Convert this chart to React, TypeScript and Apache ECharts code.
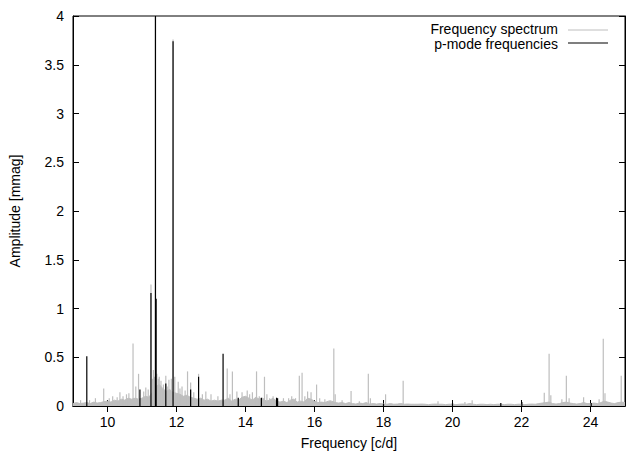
import React, { useEffect, useRef } from "react";
import * as echarts from "echarts";

// x axis ticks
const X_TICKS = [10, 12, 14, 16, 18, 20, 22, 24];

// Noise floor of the frequency spectrum, sampled every 0.1 c/d from 9.0 to 25.0
const FLOOR_START = 9.0;
const FLOOR_STEP = 0.1;
const FLOOR_AMPS = [
  0.025, 0.035, 0.025, 0.03, 0.035, 0.025, 0.04, 0.03, 0.035, 0.045,
  0.05, 0.04, 0.06, 0.05, 0.07, 0.06, 0.08, 0.07, 0.08, 0.07,
  0.08, 0.1, 0.09, 0.14, 0.2, 0.22, 0.18, 0.15, 0.17, 0.14,
  0.13, 0.12, 0.1, 0.11, 0.09, 0.08, 0.07, 0.08, 0.06, 0.07,
  0.05, 0.06, 0.05, 0.06, 0.06, 0.08, 0.05, 0.07, 0.06, 0.09,
  0.1, 0.08, 0.06, 0.09, 0.07, 0.08, 0.05, 0.06, 0.08, 0.05,
  0.04, 0.05, 0.035, 0.06, 0.07, 0.04, 0.05, 0.04, 0.08, 0.07,
  0.05, 0.035, 0.04, 0.035, 0.05, 0.05, 0.035, 0.03, 0.035, 0.025,
  0.035, 0.025, 0.02, 0.03, 0.025, 0.035, 0.02, 0.025, 0.02, 0.025,
  0.02, 0.018, 0.025, 0.018, 0.02, 0.025, 0.018, 0.02, 0.018, 0.018,
  0.018, 0.02, 0.018, 0.014, 0.018, 0.02, 0.018, 0.018, 0.014, 0.018,
  0.018, 0.014, 0.018, 0.02, 0.018, 0.025, 0.018, 0.014, 0.018, 0.018,
  0.014, 0.018, 0.014, 0.018, 0.018, 0.014, 0.018, 0.018, 0.014, 0.018,
  0.018, 0.014, 0.018, 0.02, 0.018, 0.025, 0.03, 0.035, 0.04, 0.025,
  0.02, 0.025, 0.035, 0.04, 0.03, 0.025, 0.02, 0.025, 0.035, 0.025,
  0.025, 0.03, 0.025, 0.035, 0.05, 0.04, 0.03, 0.025, 0.035, 0.04,
  0.035,
];

// Peaks of the frequency spectrum (gray)
const PEAK_FREQS = [
  9.22, 9.48, 9.65, 9.89, 10.05, 10.15, 10.28, 10.36, 10.45, 10.55,
  10.62, 10.74, 10.82, 10.9, 11.05, 11.11, 11.18, 11.26, 11.3, 11.33,
  11.36, 11.39, 11.43, 11.47, 11.5, 11.55, 11.62, 11.69, 11.73, 11.78,
  11.85, 11.9, 11.95, 12.05, 12.1, 12.16, 12.25, 12.32, 12.41, 12.5,
  12.64, 12.75, 12.85, 13.0, 13.2, 13.47, 13.55, 13.62, 13.75, 13.9,
  14.05, 14.12, 14.2, 14.32, 14.4, 14.55, 14.62, 14.7, 14.8, 15.1,
  15.25, 15.34, 15.45, 15.56, 15.64, 15.72, 15.8, 15.9, 16.06, 16.15,
  16.3, 16.45, 16.56, 16.6, 16.8, 17.06, 17.3, 17.56, 17.62, 18.06,
  18.57, 19.58, 20.36, 20.57, 22.66, 22.8, 22.85, 23.17, 23.3, 23.38,
  23.8, 24.25, 24.37, 24.42, 24.89,
];
const PEAK_AMPS = [
  0.06, 0.06, 0.08, 0.18, 0.08, 0.1, 0.09, 0.14, 0.1, 0.12,
  0.13, 0.64, 0.2, 0.33, 0.15, 0.19, 0.17, 1.245, 0.28, 0.37,
  0.3, 4.3, 0.33, 0.28, 0.3, 0.26, 0.22, 0.31, 0.2, 0.27,
  0.28, 3.76, 0.3, 0.25, 0.18, 0.2, 0.16, 0.355, 0.24, 0.14,
  0.33, 0.12, 0.15, 0.12, 0.1, 0.385, 0.12, 0.355, 0.15, 0.14,
  0.16, 0.12, 0.14, 0.355, 0.1, 0.3, 0.12, 0.08, 0.1, 0.08,
  0.08, 0.1, 0.08, 0.31, 0.34, 0.1, 0.15, 0.14, 0.22, 0.08,
  0.07, 0.06, 0.59, 0.12, 0.06, 0.155, 0.05, 0.33, 0.08, 0.12,
  0.26, 0.05, 0.04, 0.06, 0.135, 0.535, 0.11, 0.07, 0.31, 0.08,
  0.09, 0.07, 0.69, 0.13, 0.31,
];

// p-mode frequencies (black)
const PMODE_FREQS = [
  9.4, 10.94, 11.26, 11.39, 11.41, 11.69, 11.9, 12.41, 12.64, 13.35,
  13.79, 14.46, 14.9, 14.93, 18.0, 20.0, 21.4, 22.01, 24.02,
];
const PMODE_AMPS = [
  0.51, 0.17, 1.16, 4.3, 1.1, 0.23, 3.74, 0.17, 0.3, 0.535,
  0.085, 0.085, 0.085, 0.08, 0.02, 0.03, 0.03, 0.04, 0.03,
];

const FONT = "Liberation Sans, Arial, sans-serif";
const GRAY = "#bebebe";

function impulse(color: string, width: number) {
  return (params: any, api: any) => {
    const x = api.value(0);
    const y = api.value(1);
    const p0 = api.coord([x, 0]);
    const p1 = api.coord([x, y]);
    return {
      type: "line",
      shape: { x1: p0[0], y1: p0[1], x2: p1[0], y2: p1[1] },
      style: { stroke: color, lineWidth: width },
    };
  };
}

export default function App() {
  const ref = useRef<HTMLDivElement>(null);
  useEffect(() => {
    document.body.style.margin = "0";
    const chart = echarts.init(ref.current!, null, { renderer: "svg" });
    const floorData = FLOOR_AMPS.map((a, i) => [
      +(FLOOR_START + i * FLOOR_STEP).toFixed(2),
      a,
    ]);
    const peakData = PEAK_FREQS.map((f, i) => [f, PEAK_AMPS[i]]);
    const pmodeData = PMODE_FREQS.map((f, i) => [f, PMODE_AMPS[i]]);

    const tickStyle = { show: true, inside: true, length: 6, lineStyle: { color: "#000", width: 1 } };
    const labelStyle = { color: "#000", fontSize: 14, fontFamily: FONT };

    chart.setOption({
      animation: false,
      backgroundColor: "#fff",
      grid: {
        left: 72,
        right: 2,
        top: 16,
        bottom: 45,
        show: true,
        borderColor: "#000",
        borderWidth: 1,
        containLabel: false,
      },
      xAxis: [
        {
          type: "value",
          min: 9,
          max: 25,
          name: "Frequency [c/d]",
          nameLocation: "middle",
          nameGap: 30,
          nameTextStyle: { ...labelStyle },
          axisLine: { show: true, onZero: false, lineStyle: { color: "#000" } },
          axisTick: { ...tickStyle, customValues: X_TICKS },
          axisLabel: { ...labelStyle, margin: 9, customValues: X_TICKS },
          splitLine: { show: false },
        },
        {
          type: "value",
          position: "top",
          min: 9,
          max: 25,
          axisLine: { show: true, lineStyle: { color: "#000" } },
          axisTick: { ...tickStyle, customValues: X_TICKS },
          axisLabel: { show: false, customValues: X_TICKS },
          splitLine: { show: false },
        },
      ],
      yAxis: [
        {
          type: "value",
          min: 0,
          max: 4,
          interval: 0.5,
          name: "Amplitude [mmag]",
          nameLocation: "middle",
          nameGap: 51,
          nameTextStyle: { ...labelStyle },
          axisLine: { show: true, lineStyle: { color: "#000" } },
          axisTick: tickStyle,
          axisLabel: { ...labelStyle, margin: 9 },
          splitLine: { show: false },
        },
        {
          type: "value",
          position: "right",
          min: 0,
          max: 4,
          interval: 0.5,
          axisLine: { show: true, lineStyle: { color: "#000" } },
          axisTick: tickStyle,
          axisLabel: { show: false },
          splitLine: { show: false },
        },
      ],
      series: [
        {
          name: "Frequency spectrum",
          type: "line",
          data: floorData,
          symbol: "none",
          lineStyle: { color: GRAY, width: 1 },
          areaStyle: { color: GRAY, opacity: 1 },
          clip: true,
          z: 1,
        },
        {
          name: "Frequency spectrum peaks",
          type: "custom",
          data: peakData,
          renderItem: impulse(GRAY, 1.2),
          clip: true,
          z: 2,
        },
        {
          name: "p-mode frequencies",
          type: "custom",
          data: pmodeData,
          renderItem: impulse("#000", 1.2),
          clip: true,
          z: 3,
        },
      ],
      graphic: [
        {
          type: "text",
          x: 558,
          y: 29,
          style: {
            text: "Frequency spectrum",
            align: "right",
            verticalAlign: "middle",
            fill: "#000",
            font: `14px ${FONT}`,
          },
        },
        {
          type: "line",
          shape: { x1: 568, y1: 30, x2: 608, y2: 30 },
          style: { stroke: GRAY, lineWidth: 1 },
        },
        {
          type: "text",
          x: 558,
          y: 44,
          style: {
            text: "p-mode frequencies",
            align: "right",
            verticalAlign: "middle",
            fill: "#000",
            font: `14px ${FONT}`,
          },
        },
        {
          type: "line",
          shape: { x1: 568, y1: 43, x2: 608, y2: 43 },
          style: { stroke: "#000", lineWidth: 1.2 },
        },
      ],
    });
    return () => chart.dispose();
  }, []);
  return (
    <div
      ref={ref}
      style={{ position: "fixed", left: 0, top: 0, width: 627, height: 455 }}
    />
  );
}
